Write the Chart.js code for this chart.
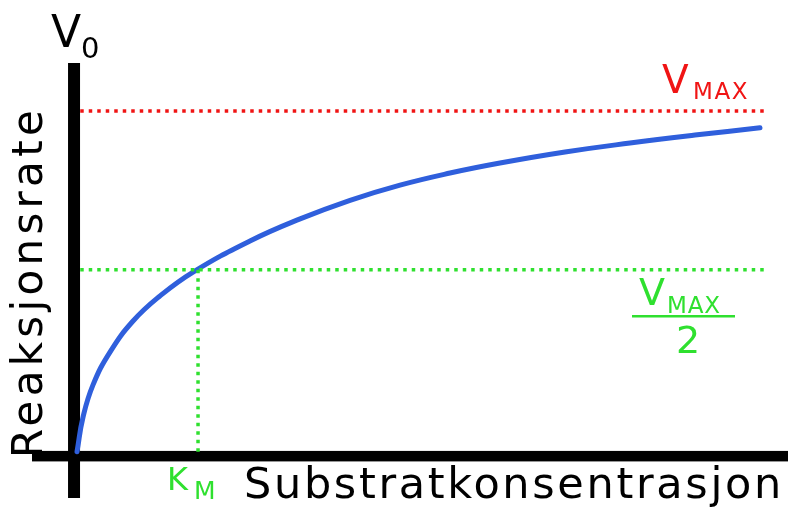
<!DOCTYPE html>
<html>
<head>
<meta charset="utf-8">
<script src="https://cdn.jsdelivr.net/npm/chart.js@4"></script>
<style>
  html,body{margin:0;padding:0;background:#fff;}
  canvas{display:block;}
</style>
</head>
<body>
<canvas id="mm" width="788" height="509"></canvas>
<script>
/* Michaelis-Menten sketch */
// substrate concentration (Km = 1) and reaction rate (Vmax = 1)
const substrate=[0.024,0.073,0.153,0.29,0.476,0.694,0.96,1.419,1.823,2.226,2.629,3.032,3.435,3.96,4.484,5.008,5.532];
const rate=[0.012,0.113,0.206,0.301,0.391,0.464,0.533,0.623,0.687,0.741,0.785,0.82,0.849,0.881,0.907,0.93,0.951];
const vmax=1.0, vhalf=0.54, km=1.0;
const guideStart=0.05, guideEnd=5.59;
const xRange=[-0.339,5.758], yRange=[-0.122,1.139];

const RED='#f01414', GREEN='#2fe02f', BLUE='#2f5fdc';
const FONT='"DejaVu Sans", Verdana, sans-serif';

function fitText(ctx,txt,x,y,width){
  ctx.letterSpacing='0px';
  const w=ctx.measureText(txt).width;
  const sp=Math.max(0,(width-w)/txt.length);
  ctx.letterSpacing=sp.toFixed(2)+'px';
  ctx.fillText(txt,x,y);
  ctx.letterSpacing='0px';
}

const axesPlugin={
  id:'axes',
  beforeDatasetsDraw(chart){
    const c=chart.ctx,a=chart.chartArea,x0=chart.scales.x.getPixelForValue(0),y0=chart.scales.y.getPixelForValue(0);
    c.save();c.fillStyle='#000';
    c.fillRect(x0-6,a.top,12,a.bottom-a.top);
    c.fillRect(a.left,y0-5,a.right-a.left,10.5);
    c.restore();
  },
  afterDraw(chart){
    const c=chart.ctx;
    c.save();c.textBaseline='alphabetic';c.textAlign='left';
    c.fillStyle='#000';
    c.font='44px '+FONT;c.fillText('V',51,47);
    c.font='29px '+FONT;c.fillText('0',81,58);
    c.font='43px '+FONT;fitText(c,'Substratkonsentrasjon',244,498,540);
    c.save();c.translate(42,458);c.rotate(-Math.PI/2);
    c.font='42px '+FONT;fitText(c,'Reaksjonsrate',0,0,352);
    c.restore();
    // Vmax label
    c.fillStyle=RED;
    c.font='39px '+FONT;c.fillText('V',662,93);
    c.font='23px '+FONT;fitText(c,'MAX',693,99,56);
    // Vmax/2 label
    c.fillStyle=GREEN;
    c.font='38px '+FONT;c.fillText('V',639,305);
    c.font='23px '+FONT;fitText(c,'MAX',667,313,54);
    c.fillRect(632,315,103,2.5);
    c.font='38px '+FONT;c.textAlign='center';c.fillText('2',688,353);
    c.textAlign='left';
    c.font='32px '+FONT;c.fillText('K',167,490);
    c.font='25px '+FONT;c.fillText('M',194,499);
    c.restore();
  }
};

const dotted={borderWidth:3.5,borderDash:[3.5,5],pointRadius:0,fill:false,tension:0};
new Chart(document.getElementById('mm'),{
  type:'line',
  data:{datasets:[
    Object.assign({data:[{x:guideStart,y:vmax},{x:guideEnd,y:vmax}],borderColor:RED},dotted),
    Object.assign({data:[{x:guideStart,y:vhalf},{x:guideEnd,y:vhalf}],borderColor:GREEN},dotted),
    Object.assign({data:[{x:km,y:vhalf},{x:km,y:0.01}],borderColor:GREEN},dotted),
    {data:substrate.map((s,i)=>({x:s,y:rate[i]})),borderColor:BLUE,borderWidth:5,pointRadius:0,fill:false,tension:0.45,borderCapStyle:'round'}
  ]},
  options:{
    responsive:false,animation:false,
    layout:{padding:{left:32,right:0,top:63,bottom:11}},
    scales:{
      x:{type:'linear',min:xRange[0],max:xRange[1],display:false},
      y:{type:'linear',min:yRange[0],max:yRange[1],display:false}
    },
    plugins:{legend:{display:false},tooltip:{enabled:false}}
  },
  plugins:[axesPlugin]
});
</script>
</body>
</html>
